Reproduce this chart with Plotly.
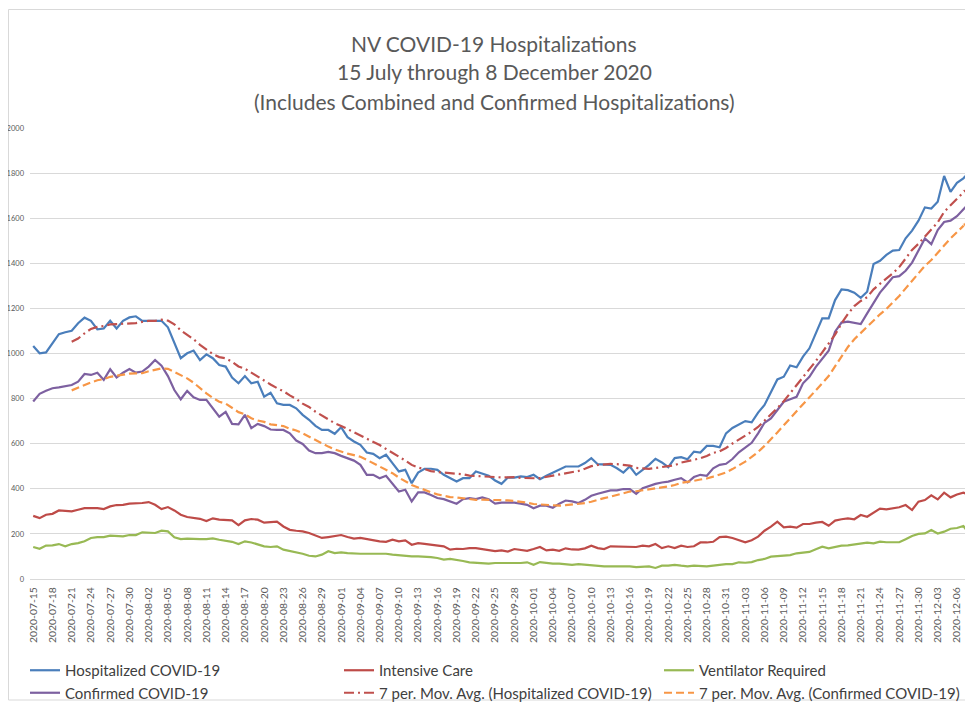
import pandas as pd
import plotly.graph_objects as go

dates = [d.strftime("%Y-%m-%d") for d in pd.date_range("2020-07-15", "2020-12-08", freq="D")]
tick_labels = dates[::3]

hospitalized = [
    1033, 1001, 1005, 1045, 1086, 1094, 1101, 1134, 1159, 1145, 1107, 1111, 1145, 1111, 1145, 1160,
    1165, 1145, 1145, 1144, 1145, 1116, 1045, 979, 1001, 1013, 971, 996, 979, 949, 942, 893,
    868, 900, 868, 875, 809, 826, 779, 772, 772, 757, 728, 706, 679, 661, 661, 644,
    673, 629, 610, 595, 561, 555, 536, 551, 514, 477, 484, 425, 472, 489, 489, 484,
    462, 447, 432, 447, 447, 477, 466, 458, 437, 422, 450, 450, 455, 452, 462, 443,
    458, 472, 484, 499, 499, 499, 514, 536, 509, 509, 506, 491, 472, 499, 462, 484,
    506, 533, 517, 496, 536, 540, 531, 565, 561, 590, 590, 584, 646, 670, 686, 700,
    695, 738, 772, 831, 885, 897, 947, 939, 986, 1023, 1089, 1156, 1156, 1237, 1284, 1281,
    1270, 1247, 1274, 1397, 1411, 1437, 1456, 1459, 1511, 1545, 1589, 1648, 1643, 1673, 1787, 1717,
    1757, 1777, 1806,
]

confirmed = [
    787, 821, 835, 846, 850, 856, 860, 875, 909, 905, 915, 883, 930, 894, 915, 931,
    915, 920, 942, 971, 946, 900, 838, 797, 834, 806, 794, 794, 757, 720, 741, 688,
    686, 728, 669, 688, 678, 663, 661, 661, 646, 614, 599, 570, 558, 558, 564, 558,
    546, 536, 525, 506, 462, 462, 447, 458, 425, 388, 396, 344, 384, 384, 373, 359,
    354, 344, 334, 354, 359, 354, 362, 354, 334, 339, 339, 339, 334, 329, 314, 325,
    325, 316, 334, 348, 344, 337, 351, 369, 378, 384, 393, 393, 399, 399, 378, 403,
    413, 422, 428, 432, 440, 447, 428, 452, 462, 458, 491, 506, 511, 532, 562, 583,
    604, 646, 693, 712, 749, 786, 797, 808, 868, 897, 941, 978, 1012, 1097, 1137, 1141,
    1137, 1131, 1178, 1222, 1270, 1304, 1338, 1343, 1367, 1403, 1456, 1510, 1485, 1547, 1583, 1589,
    1609, 1639, 1669,
]

intensive_care = [
    280, 270, 285, 289, 304, 303, 300, 307, 314, 314, 314, 310, 322, 328, 329, 334,
    334, 337, 341, 329, 310, 319, 304, 285, 275, 270, 267, 257, 269, 263, 263, 260,
    239, 260, 266, 263, 250, 251, 254, 233, 218, 214, 211, 204, 192, 182, 186, 189,
    195, 186, 179, 182, 177, 171, 167, 165, 174, 167, 171, 152, 159, 156, 152, 148,
    145, 130, 134, 133, 137, 137, 133, 127, 124, 127, 122, 133, 130, 125, 133, 142,
    127, 130, 125, 136, 131, 130, 136, 148, 137, 133, 145, 145, 142, 142, 142, 148,
    145, 155, 137, 145, 137, 148, 142, 145, 162, 162, 165, 186, 188, 182, 172, 163,
    172, 188, 214, 232, 254, 229, 232, 228, 244, 244, 250, 253, 236, 259, 265, 269,
    265, 284, 276, 296, 312, 309, 312, 318, 328, 306, 343, 350, 371, 353, 383, 362,
    375, 383, 371,
]

ventilator = [
    142, 134, 148, 149, 155, 145, 155, 159, 167, 182, 186, 186, 192, 192, 189, 195,
    195, 207, 207, 204, 214, 211, 185, 177, 179, 177, 177, 177, 180, 174, 168, 165,
    155, 167, 162, 155, 145, 142, 145, 130, 125, 120, 112, 103, 100, 108, 123, 115,
    118, 115, 112, 112, 112, 112, 115, 112, 108, 105, 105, 100, 100, 99, 97, 93,
    86, 89, 86, 80, 74, 71, 68, 68, 71, 71, 71, 68, 71, 74, 63, 75,
    71, 68, 68, 66, 63, 66, 63, 63, 59, 56, 56, 56, 59, 56, 53, 53,
    56, 49, 59, 59, 63, 59, 56, 59, 56, 56, 59, 63, 66, 66, 74, 72,
    75, 84, 89, 99, 102, 102, 106, 114, 118, 120, 132, 143, 136, 142, 148, 149,
    152, 158, 161, 158, 166, 163, 163, 163, 176, 191, 200, 202, 217, 202, 210, 223,
    226, 235, 198,
]

ma_hosp = pd.Series(hospitalized).rolling(7).mean().tolist()
ma_conf = pd.Series(confirmed).rolling(7).mean().tolist()

BLUE = "#4A7EBB"
RED = "#BE4B48"
GREEN = "#98B954"
PURPLE = "#7D60A0"
ORANGE = "#F79646"
MA_RED = "#C0504D"

FONT = "Lato, Open Sans, sans-serif"

# page offset (body margin) and plot-area geometry in page pixels
OFF = 8
W, H = 973 - OFF, 702 - OFF
PL, PR, PT, PB = 30, 973, 128, 579
PW, PH = PR - PL, PB - PT


def px_x(px):
    return (px - PL) / PW


def px_y(py):
    return (PB - py) / PH


fig = go.Figure()


def line(y, name, color, legend, dash="solid"):
    fig.add_trace(go.Scatter(
        x=dates, y=y, name=name, mode="lines", legend=legend,
        line=dict(color=color, width=2.2, dash=dash),
    ))


line(hospitalized, "Hospitalized COVID-19", BLUE, "legend")
line(intensive_care, "Intensive Care", RED, "legend2")
line(ventilator, "Ventilator Required", GREEN, "legend3")
line(confirmed, "Confirmed COVID-19", PURPLE, "legend")
line(ma_hosp, "7 per. Mov. Avg. (Hospitalized COVID-19)", MA_RED, "legend2", "10px,4px,2px,4px")
line(ma_conf, "7 per. Mov. Avg. (Confirmed COVID-19)", ORANGE, "legend3", "8px,4px")

# arrow heads at the end of the trend lines
for ma, col in ((ma_hosp, MA_RED), (ma_conf, ORANGE)):
    fig.add_trace(go.Scatter(
        x=dates[-2:], y=ma[-2:], mode="markers", showlegend=False, hoverinfo="skip",
        marker=dict(symbol="arrow", angleref="previous", size=[0, 8], color=col),
    ))

titles = [
    ("NV COVID-19 Hospitalizations", 44),
    ("15 July through 8 December 2020", 72),
    ("(Includes Combined and Confirmed Hospitalizations)", 101),
]
annotations = []
for t, yy in titles:
    annotations.append(dict(
        text=t, xref="paper", yref="paper", x=px_x(494), y=px_y(yy),
        xanchor="center", yanchor="middle", showarrow=False,
        font=dict(family=FONT, size=21, color="#595959"),
    ))


def legend_at(text_x, top_y):
    return dict(
        orientation="v", x=px_x(text_x - 38), y=px_y(top_y), xanchor="left", yanchor="top",
        itemwidth=30, font=dict(family=FONT, size=15, color="#404040"),
        bgcolor="rgba(0,0,0,0)", tracegroupgap=0,
    )


LEG_TOP = 654
fig.update_layout(
    width=W, height=H,
    margin=dict(l=PL - OFF, r=0, t=PT - OFF, b=H - (PB - OFF), pad=0, autoexpand=False),
    paper_bgcolor="white", plot_bgcolor="white",
    showlegend=True,
    annotations=annotations,
    shapes=[dict(
        type="rect", xref="paper", yref="paper",
        x0=px_x(OFF + 0.5), x1=px_x(990), y0=px_y(700), y1=px_y(9.5),
        line=dict(color="#D9D9D9", width=1), fillcolor="rgba(0,0,0,0)", layer="below",
    )],
    legend=legend_at(63, LEG_TOP),
    legend2=legend_at(377, LEG_TOP),
    legend3=legend_at(697, LEG_TOP),
    font=dict(family=FONT, color="#595959"),
)

fig.update_xaxes(
    type="category", range=[-0.5, len(dates) - 0.5],
    tickmode="array", tickvals=tick_labels, ticktext=tick_labels,
    tickangle=-90, tickfont=dict(size=10.4, color="#595959"),
    showgrid=False, showline=True, linecolor="#D9D9D9", linewidth=1,
    ticks="", ticklabelstandoff=3, zeroline=False, automargin=False,
)
fig.update_yaxes(
    range=[0, 2000], dtick=200, tick0=0,
    tickfont=dict(size=7.5, color="#595959"),
    showgrid=True, gridcolor="#D9D9D9", gridwidth=1,
    showline=False, zeroline=False, ticks="", ticklabelstandoff=5, automargin=False,
)

fig.write_html("out.html")
